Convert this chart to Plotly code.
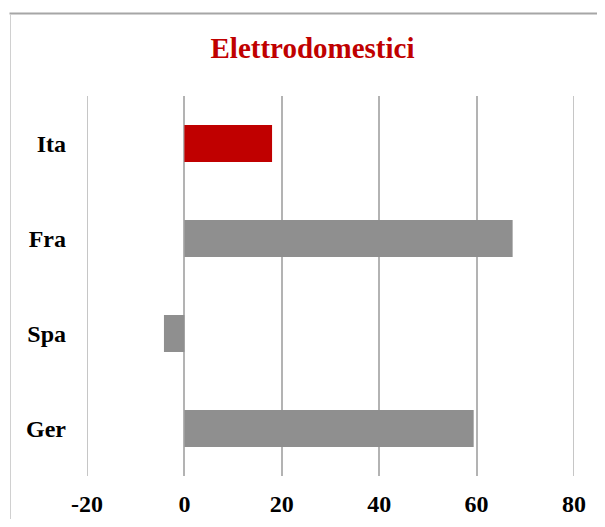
import plotly.graph_objects as go

categories = ["Ita", "Fra", "Spa", "Ger"]
values = [18, 67.4, -4.2, 59.4]
bar_colors = ["#c00000", "#8f8f8f", "#8f8f8f", "#8f8f8f"]
x_ticks = [-20, 0, 20, 40, 60, 80]
title_text = "Elettrodomestici"

# The page body has an 8px margin, so the figure is laid out in
# coordinates shifted by 8px from the reference picture.
OFF = 8
W, H = 605 - 2 * OFF, 527 - 2 * OFF
L = 87 - OFF
T = 96 - OFF
R = W - (574 - OFF)
B = H - (476 - OFF)

fig = go.Figure()
fig.add_trace(go.Bar(
    y=categories, x=values, orientation="h",
    marker=dict(color=bar_colors, line=dict(width=0)),
    width=0.39,
))

serif = "Liberation Serif, Times New Roman, serif"
font_tick = dict(family=serif, size=24, color="black", weight="bold")

pw = W - L - R
ph = H - T - B
def px_to_paper_x(px):
    return (px - L) / pw
def px_to_paper_y(py):
    return (H - B - py) / ph

grid_col = "#b3b3b3"
shapes = [
    dict(type="line", xref="paper", yref="paper",
         x0=px_to_paper_x(10.5 - OFF - 1), x1=px_to_paper_x(W + 5),
         y0=px_to_paper_y(13.5 - OFF), y1=px_to_paper_y(13.5 - OFF),
         line=dict(color="#a6a6a6", width=2), layer="above"),
    dict(type="line", xref="paper", yref="paper",
         x0=px_to_paper_x(10.5 - OFF), x1=px_to_paper_x(10.5 - OFF),
         y0=px_to_paper_y(14 - OFF), y1=px_to_paper_y(H + 5),
         line=dict(color="#d0d0d0", width=1), layer="above"),
]
# gridlines at the range edges (plotly hides them at the plot border)
for v in (x_ticks[0], x_ticks[-1]):
    shapes.append(dict(type="line", xref="x", yref="paper", x0=v, x1=v, y0=0, y1=1,
                       line=dict(color=grid_col, width=1.5), layer="below"))

fig.update_layout(
    width=W, height=H,
    margin=dict(l=L, r=R, t=T, b=B, autoexpand=False),
    paper_bgcolor="white", plot_bgcolor="white",
    showlegend=False,
    title=dict(text=title_text, x=(312.5 - OFF) / W, xanchor="center",
               y=1 - (48 - OFF) / H, yanchor="middle", yref="container",
               font=dict(family=serif, size=29, color="#c00000", weight="bold")),
    xaxis=dict(range=[-20, 80], tickvals=x_ticks, ticktext=[str(v) for v in x_ticks],
               showgrid=True, gridcolor=grid_col, gridwidth=1.5,
               zeroline=True, zerolinecolor=grid_col, zerolinewidth=1.5,
               showline=False, ticks="", tickfont=font_tick, ticklabelstandoff=11),
    yaxis=dict(categoryorder="array", categoryarray=categories,
               range=[3.5, -0.5], showgrid=False, zeroline=False, showline=False,
               ticks="", tickfont=font_tick, ticklabelstandoff=20),
    shapes=shapes,
)

fig.write_html("out.html")
